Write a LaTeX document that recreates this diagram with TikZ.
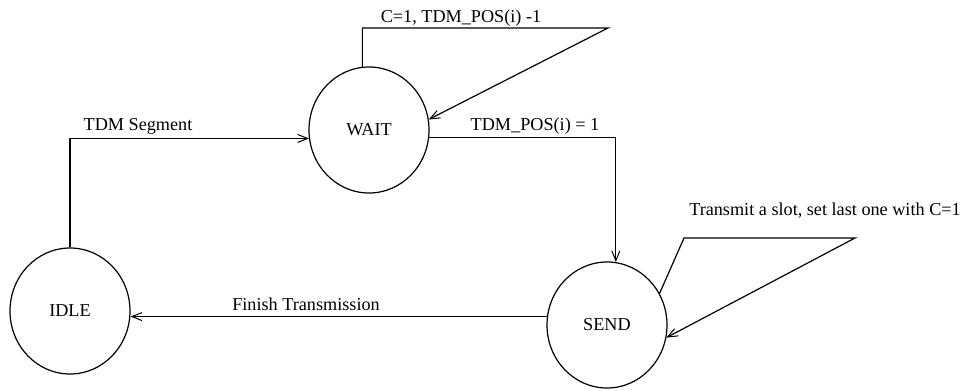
\documentclass[tikz,border=0pt]{standalone}
\usepackage{fontspec}
\setmainfont{Liberation Serif}
\usetikzlibrary{arrows.meta,shapes.geometric}
\begin{document}
\begin{tikzpicture}[x=1pt,y=-1pt,
  every node/.style={font=\fontsize{18.2}{21}\selectfont},
  state/.style={draw,ellipse,line width=1.2pt,minimum width=120pt,minimum height=126pt,inner sep=0pt},
  conn/.style={line width=1.2pt,-{Straight Barb[length=10pt,width=8pt,line width=1pt]}},
  lbl/.style={anchor=base,inner sep=0pt}]
\useasboundingbox (0,0) rectangle (967,391);
\node[state] (idle) at (70,311) {IDLE};
\node[state] (wait) at (369,130) {WAIT};
\node[state] (send) at (607,325) {SEND};
\coordinate (wl) at (608,28);
\coordinate (s1) at (684,238);
\coordinate (s2) at (855,238);
% connectors
\draw[conn] (idle.north) |- (wait.188);
\draw[conn] (wait.96) |- (wl) -- (wait.10);
\draw[conn] (wait.353) -| (send.82);
\draw[conn] (send.31) -- (s1) -- (s2) -- (send.348);
\draw[conn] (send.172) -- (send.172 -| idle.east);
% labels
\node[lbl] (l1) at (461,22) {C=1, TDM\_POS(i) -1};
\node[lbl] (l2) at (535,130) {TDM\_POS(i) = 1};
\node[lbl] (l3) at (138,130) {TDM Segment};
\node[lbl] (l4) at (306,310) {Finish Transmission};
\node[lbl] (l5) at (825,215) {Transmit a slot, set last one with C=1};
\end{tikzpicture}
\end{document}
